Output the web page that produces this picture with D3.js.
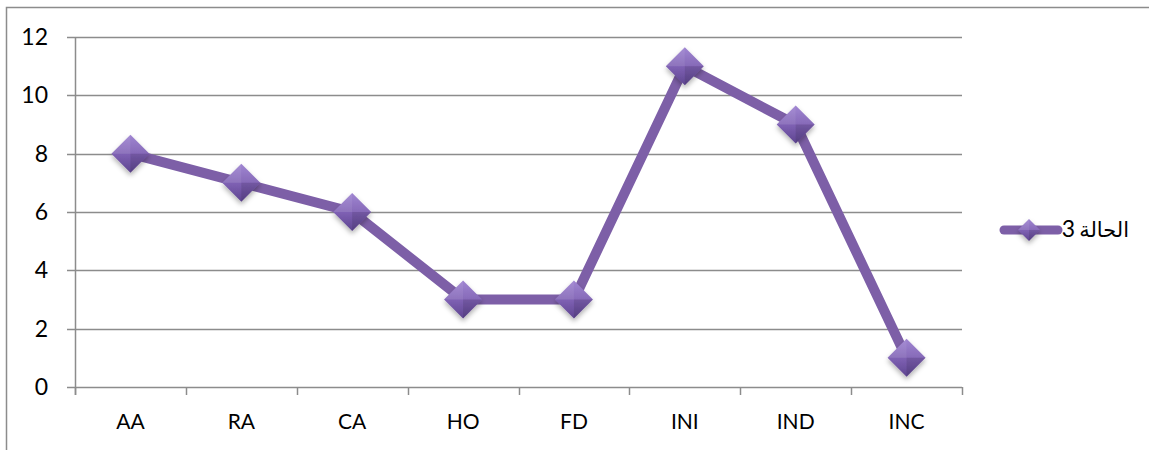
<!DOCTYPE html>
<html>
<head>
<meta charset="utf-8">
<script src="https://cdn.jsdelivr.net/npm/d3@7"></script>
<style>
  html, body { margin: 0; padding: 0; background: #fff; }
  svg { display: block; }
  text { font-family: Lato, "Open Sans", sans-serif; fill: #000; }
</style>
</head>
<body>
<svg id="chart" width="1149" height="450"></svg>
<script>
// Categories and values of the series
const categories = ["AA", "RA", "CA", "HO", "FD", "INI", "IND", "INC"];
const values = [8, 7, 6, 3, 3, 11, 9, 1];
const yTicks = [0, 2, 4, 6, 8, 10, 12];
const seriesLabel = "الحالة";
const seriesNumber = "3";

const svg = d3.select("#chart");
const W = 1149, H = 450;
const plot = { left: 75, right: 962, top: 37, bottom: 387 };
const lineColor = "#7d5fa7";

// Outer frame (runs past the right and bottom edges)
svg.append("rect")
  .attr("x", 6.5).attr("y", 7.5)
  .attr("width", W + 10).attr("height", H + 10)
  .attr("fill", "none").attr("stroke", "#8c8c8c").attr("stroke-width", 1.5);

const x = d3.scaleBand().domain(categories).range([plot.left, plot.right]);
const y = d3.scaleLinear().domain([0, 12]).range([plot.bottom, plot.top]);

const defs = svg.append("defs");
const grad = defs.append("linearGradient").attr("id", "mk")
  .attr("x1", "0").attr("y1", "0").attr("x2", "0").attr("y2", "1");
grad.append("stop").attr("offset", "0%").attr("stop-color", "#9a7ecf");
grad.append("stop").attr("offset", "50%").attr("stop-color", "#7f61b4");
grad.append("stop").attr("offset", "100%").attr("stop-color", "#5e4590");
const shadow = defs.append("filter").attr("id", "sh")
  .attr("x", "-50%").attr("y", "-50%").attr("width", "200%").attr("height", "200%");
shadow.append("feDropShadow").attr("dx", 0).attr("dy", 3).attr("stdDeviation", 2.5)
  .attr("flood-color", "#000").attr("flood-opacity", 0.3);

// Horizontal gridlines
svg.append("g").selectAll("line").data(yTicks).join("line")
  .attr("x1", plot.left - 8).attr("x2", plot.right)
  .attr("y1", d => Math.round(y(d)) + 0.5).attr("y2", d => Math.round(y(d)) + 0.5)
  .attr("stroke", "#8c8c8c").attr("stroke-width", 1.5);

// Y axis: domain line plus labels drawn as plain text
svg.append("line")
  .attr("x1", plot.left + 0.5).attr("x2", plot.left + 0.5)
  .attr("y1", plot.top).attr("y2", plot.bottom + 8)
  .attr("stroke", "#8c8c8c").attr("stroke-width", 1.5);
svg.append("g").selectAll("text").data(yTicks).join("text")
  .attr("x", 48).attr("y", d => y(d) + 8)
  .attr("text-anchor", "end")
  .attr("font-size", 23)
  .text(d => d);

// X axis with tick marks between categories
const boundaries = categories.map(c => x(c)).concat([plot.right]);
svg.append("g").selectAll("line").data(boundaries).join("line")
  .attr("x1", d => Math.round(d) + 0.5).attr("x2", d => Math.round(d) + 0.5)
  .attr("y1", plot.bottom).attr("y2", plot.bottom + 8)
  .attr("stroke", "#8c8c8c").attr("stroke-width", 1.5);
svg.append("g").selectAll("text").data(categories).join("text")
  .attr("x", d => x(d) + x.bandwidth() / 2)
  .attr("y", plot.bottom + 42)
  .attr("text-anchor", "middle")
  .attr("font-size", 21)
  .text(d => d);

// Series line
const pts = categories.map((c, i) => [x(c) + x.bandwidth() / 2, y(values[i])]);
svg.append("path")
  .attr("d", d3.line()(pts))
  .attr("fill", "none").attr("stroke", lineColor)
  .attr("stroke-width", 10).attr("stroke-linejoin", "round").attr("stroke-linecap", "round");

// Diamond markers
function diamond(g, cx, cy, r) {
  const gg = g.append("g").attr("transform", `translate(${cx},${cy})`).attr("filter", "url(#sh)");
  gg.append("path").attr("d", `M0,${-r}L${r},0L0,${r}L${-r},0Z`).attr("fill", "url(#mk)");
  gg.append("path").attr("d", `M0,${-r}L${r},0L0,0Z`).attr("fill", "#fff").attr("opacity", 0.06);
  gg.append("path").attr("d", `M0,${-r}L${-r},0L0,0Z`).attr("fill", "#fff").attr("opacity", 0.12);
  gg.append("path").attr("d", `M0,${r}L${r},0L0,0Z`).attr("fill", "#000").attr("opacity", 0.1);
}
const mg = svg.append("g");
pts.forEach(p => diamond(mg, p[0], p[1], 19));

// Legend
const lg = svg.append("g");
lg.append("line").attr("x1", 1004).attr("x2", 1058).attr("y1", 230).attr("y2", 230)
  .attr("stroke", lineColor).attr("stroke-width", 9).attr("stroke-linecap", "round");
diamond(lg, 1029, 230, 11);
const lt = lg.append("text").attr("x", 1129).attr("y", 237)
  .attr("direction", "rtl").attr("text-anchor", "start");
lt.append("tspan").attr("font-size", 21)
  .style("font-family", "'DejaVu Sans', 'Noto Sans', sans-serif").text(seriesLabel);
lt.append("tspan").attr("dx", -4).attr("font-size", 23).text(seriesNumber);
</script>
</body>
</html>
